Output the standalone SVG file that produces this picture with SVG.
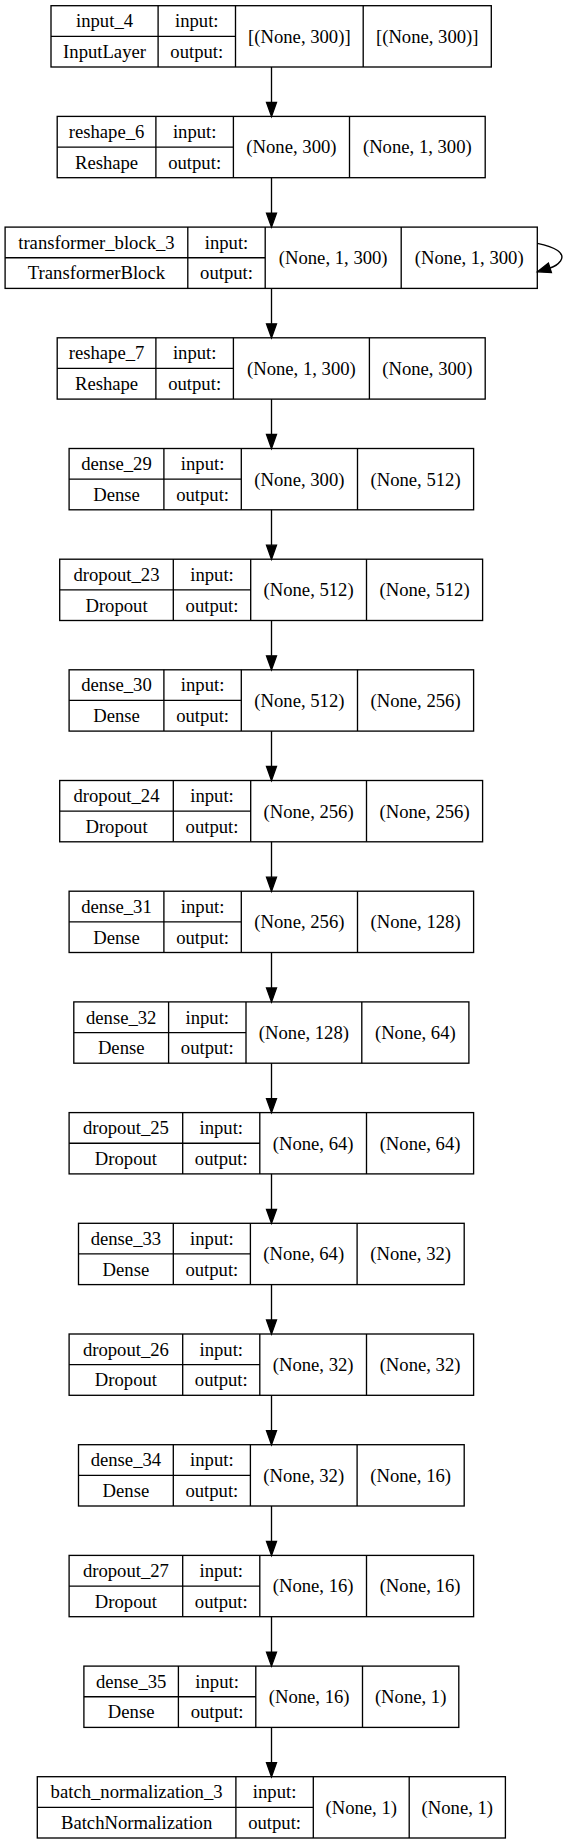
<svg xmlns="http://www.w3.org/2000/svg" width="567" height="1844" viewBox="0 0 567 1844">
<style>
.b{fill:none;stroke:#000;stroke-width:1.33}
.e{fill:none;stroke:#000;stroke-width:1.33}
.h{fill:#000;stroke:#000;stroke-width:1.33}
text{font-family:"Liberation Serif","Times New Roman",serif;font-size:18.67px;text-anchor:middle;fill:#000}
</style>
<rect width="567" height="1844" fill="#fff"/>
<g id="connectors">
<line class="e" x1="271.5" y1="67" x2="271.5" y2="102.4"/><polygon class="h" points="271.5,116.4 266.5,102.4 276.5,102.4"/>
<line class="e" x1="271.5" y1="177.7" x2="271.5" y2="213.1"/><polygon class="h" points="271.5,227.1 266.5,213.1 276.5,213.1"/>
<line class="e" x1="271.5" y1="288.4" x2="271.5" y2="323.8"/><polygon class="h" points="271.5,337.8 266.5,323.8 276.5,323.8"/>
<line class="e" x1="271.5" y1="399.1" x2="271.5" y2="434.5"/><polygon class="h" points="271.5,448.5 266.5,434.5 276.5,434.5"/>
<line class="e" x1="271.5" y1="509.8" x2="271.5" y2="545.2"/><polygon class="h" points="271.5,559.2 266.5,545.2 276.5,545.2"/>
<line class="e" x1="271.5" y1="620.5" x2="271.5" y2="655.8"/><polygon class="h" points="271.5,669.8 266.5,655.8 276.5,655.8"/>
<line class="e" x1="271.5" y1="731.1" x2="271.5" y2="766.5"/><polygon class="h" points="271.5,780.5 266.5,766.5 276.5,766.5"/>
<line class="e" x1="271.5" y1="841.8" x2="271.5" y2="877.2"/><polygon class="h" points="271.5,891.2 266.5,877.2 276.5,877.2"/>
<line class="e" x1="271.5" y1="952.5" x2="271.5" y2="987.9"/><polygon class="h" points="271.5,1001.9 266.5,987.9 276.5,987.9"/>
<line class="e" x1="271.5" y1="1063.2" x2="271.5" y2="1098.6"/><polygon class="h" points="271.5,1112.6 266.5,1098.6 276.5,1098.6"/>
<line class="e" x1="271.5" y1="1173.9" x2="271.5" y2="1209.3"/><polygon class="h" points="271.5,1223.3 266.5,1209.3 276.5,1209.3"/>
<line class="e" x1="271.5" y1="1284.6" x2="271.5" y2="1320"/><polygon class="h" points="271.5,1334 266.5,1320 276.5,1320"/>
<line class="e" x1="271.5" y1="1395.3" x2="271.5" y2="1430.7"/><polygon class="h" points="271.5,1444.7 266.5,1430.7 276.5,1430.7"/>
<line class="e" x1="271.5" y1="1506" x2="271.5" y2="1541.4"/><polygon class="h" points="271.5,1555.4 266.5,1541.4 276.5,1541.4"/>
<line class="e" x1="271.5" y1="1616.7" x2="271.5" y2="1652.1"/><polygon class="h" points="271.5,1666.1 266.5,1652.1 276.5,1652.1"/>
<line class="e" x1="271.5" y1="1727.4" x2="271.5" y2="1762.7"/><polygon class="h" points="271.5,1776.7 266.5,1762.7 276.5,1762.7"/>
<path class="e" d="M537.3,243.3 C555,247 566,253 560.5,261 C557.5,265 554,266.8 550,268"/>
<polygon class="h" points="537.5,271.8 551.4,272.6 548.4,263.1"/>
</g>
<g id="n0">
<rect class="b" x="51" y="5.7" width="440.3" height="61.3"/>
<path class="b" d="M158.1,5.7V67M235.5,5.7V67M363.2,5.7V67M51,36.35H235.5"/>
<text x="104.55" y="27.3">input_4</text><text x="104.55" y="58">InputLayer</text>
<text x="196.8" y="27.3">input:</text><text x="196.8" y="58">output:</text>
<text x="299.35" y="42.7">[(None, 300)]</text><text x="427.25" y="42.7">[(None, 300)]</text>
</g>
<g id="n1">
<rect class="b" x="57.2" y="116.4" width="428" height="61.3"/>
<path class="b" d="M155.9,116.4V177.7M233.4,116.4V177.7M349.5,116.4V177.7M57.2,147.05H233.4"/>
<text x="106.55" y="138">reshape_6</text><text x="106.55" y="168.7">Reshape</text>
<text x="194.65" y="138">input:</text><text x="194.65" y="168.7">output:</text>
<text x="291.45" y="153.4">(None, 300)</text><text x="417.35" y="153.4">(None, 1, 300)</text>
</g>
<g id="n2">
<rect class="b" x="5.1" y="227.1" width="532.2" height="61.3"/>
<path class="b" d="M187.8,227.1V288.4M265.2,227.1V288.4M401.2,227.1V288.4M5.1,257.75H265.2"/>
<text x="96.45" y="248.7">transformer_block_3</text><text x="96.45" y="279.4">TransformerBlock</text>
<text x="226.5" y="248.7">input:</text><text x="226.5" y="279.4">output:</text>
<text x="333.2" y="264.1">(None, 1, 300)</text><text x="469.25" y="264.1">(None, 1, 300)</text>
</g>
<g id="n3">
<rect class="b" x="57.2" y="337.8" width="428" height="61.3"/>
<path class="b" d="M155.9,337.8V399.1M233.4,337.8V399.1M369.4,337.8V399.1M57.2,368.45H233.4"/>
<text x="106.55" y="359.4">reshape_7</text><text x="106.55" y="390.1">Reshape</text>
<text x="194.65" y="359.4">input:</text><text x="194.65" y="390.1">output:</text>
<text x="301.4" y="374.8">(None, 1, 300)</text><text x="427.3" y="374.8">(None, 300)</text>
</g>
<g id="n4">
<rect class="b" x="69.1" y="448.5" width="404.5" height="61.3"/>
<path class="b" d="M163.9,448.5V509.8M241.3,448.5V509.8M357.5,448.5V509.8M69.1,479.15H241.3"/>
<text x="116.5" y="470.1">dense_29</text><text x="116.5" y="500.8">Dense</text>
<text x="202.6" y="470.1">input:</text><text x="202.6" y="500.8">output:</text>
<text x="299.4" y="485.5">(None, 300)</text><text x="415.55" y="485.5">(None, 512)</text>
</g>
<g id="n5">
<rect class="b" x="59.7" y="559.2" width="422.9" height="61.3"/>
<path class="b" d="M173.3,559.2V620.5M250.7,559.2V620.5M366.5,559.2V620.5M59.7,589.85H250.7"/>
<text x="116.5" y="580.8">dropout_23</text><text x="116.5" y="611.5">Dropout</text>
<text x="212" y="580.8">input:</text><text x="212" y="611.5">output:</text>
<text x="308.6" y="596.2">(None, 512)</text><text x="424.55" y="596.2">(None, 512)</text>
</g>
<g id="n6">
<rect class="b" x="69.1" y="669.8" width="404.5" height="61.3"/>
<path class="b" d="M163.9,669.8V731.1M241.3,669.8V731.1M357.5,669.8V731.1M69.1,700.45H241.3"/>
<text x="116.5" y="691.4">dense_30</text><text x="116.5" y="722.1">Dense</text>
<text x="202.6" y="691.4">input:</text><text x="202.6" y="722.1">output:</text>
<text x="299.4" y="706.8">(None, 512)</text><text x="415.55" y="706.8">(None, 256)</text>
</g>
<g id="n7">
<rect class="b" x="59.7" y="780.5" width="422.9" height="61.3"/>
<path class="b" d="M173.3,780.5V841.8M250.7,780.5V841.8M366.5,780.5V841.8M59.7,811.15H250.7"/>
<text x="116.5" y="802.1">dropout_24</text><text x="116.5" y="832.8">Dropout</text>
<text x="212" y="802.1">input:</text><text x="212" y="832.8">output:</text>
<text x="308.6" y="817.5">(None, 256)</text><text x="424.55" y="817.5">(None, 256)</text>
</g>
<g id="n8">
<rect class="b" x="69.1" y="891.2" width="404.5" height="61.3"/>
<path class="b" d="M163.9,891.2V952.5M241.3,891.2V952.5M357.5,891.2V952.5M69.1,921.85H241.3"/>
<text x="116.5" y="912.8">dense_31</text><text x="116.5" y="943.5">Dense</text>
<text x="202.6" y="912.8">input:</text><text x="202.6" y="943.5">output:</text>
<text x="299.4" y="928.2">(None, 256)</text><text x="415.55" y="928.2">(None, 128)</text>
</g>
<g id="n9">
<rect class="b" x="73.8" y="1001.9" width="395.1" height="61.3"/>
<path class="b" d="M168.6,1001.9V1063.2M246,1001.9V1063.2M361.8,1001.9V1063.2M73.8,1032.55H246"/>
<text x="121.2" y="1023.5">dense_32</text><text x="121.2" y="1054.2">Dense</text>
<text x="207.3" y="1023.5">input:</text><text x="207.3" y="1054.2">output:</text>
<text x="303.9" y="1038.9">(None, 128)</text><text x="415.35" y="1038.9">(None, 64)</text>
</g>
<g id="n10">
<rect class="b" x="69.1" y="1112.6" width="404.5" height="61.3"/>
<path class="b" d="M182.7,1112.6V1173.9M259.8,1112.6V1173.9M366.5,1112.6V1173.9M69.1,1143.25H259.8"/>
<text x="125.9" y="1134.2">dropout_25</text><text x="125.9" y="1164.9">Dropout</text>
<text x="221.25" y="1134.2">input:</text><text x="221.25" y="1164.9">output:</text>
<text x="313.15" y="1149.6">(None, 64)</text><text x="420.05" y="1149.6">(None, 64)</text>
</g>
<g id="n11">
<rect class="b" x="78.5" y="1223.3" width="385.7" height="61.3"/>
<path class="b" d="M173.3,1223.3V1284.6M250.4,1223.3V1284.6M357.1,1223.3V1284.6M78.5,1253.95H250.4"/>
<text x="125.9" y="1244.9">dense_33</text><text x="125.9" y="1275.6">Dense</text>
<text x="211.85" y="1244.9">input:</text><text x="211.85" y="1275.6">output:</text>
<text x="303.75" y="1260.3">(None, 64)</text><text x="410.65" y="1260.3">(None, 32)</text>
</g>
<g id="n12">
<rect class="b" x="69.1" y="1334" width="404.5" height="61.3"/>
<path class="b" d="M182.7,1334V1395.3M259.8,1334V1395.3M366.5,1334V1395.3M69.1,1364.65H259.8"/>
<text x="125.9" y="1355.6">dropout_26</text><text x="125.9" y="1386.3">Dropout</text>
<text x="221.25" y="1355.6">input:</text><text x="221.25" y="1386.3">output:</text>
<text x="313.15" y="1371">(None, 32)</text><text x="420.05" y="1371">(None, 32)</text>
</g>
<g id="n13">
<rect class="b" x="78.5" y="1444.7" width="385.7" height="61.3"/>
<path class="b" d="M173.3,1444.7V1506M250.4,1444.7V1506M357.1,1444.7V1506M78.5,1475.35H250.4"/>
<text x="125.9" y="1466.3">dense_34</text><text x="125.9" y="1497">Dense</text>
<text x="211.85" y="1466.3">input:</text><text x="211.85" y="1497">output:</text>
<text x="303.75" y="1481.7">(None, 32)</text><text x="410.65" y="1481.7">(None, 16)</text>
</g>
<g id="n14">
<rect class="b" x="69.1" y="1555.4" width="404.5" height="61.3"/>
<path class="b" d="M182.7,1555.4V1616.7M259.8,1555.4V1616.7M366.5,1555.4V1616.7M69.1,1586.05H259.8"/>
<text x="125.9" y="1577">dropout_27</text><text x="125.9" y="1607.7">Dropout</text>
<text x="221.25" y="1577">input:</text><text x="221.25" y="1607.7">output:</text>
<text x="313.15" y="1592.4">(None, 16)</text><text x="420.05" y="1592.4">(None, 16)</text>
</g>
<g id="n15">
<rect class="b" x="83.9" y="1666.1" width="374.9" height="61.3"/>
<path class="b" d="M178.4,1666.1V1727.4M255.8,1666.1V1727.4M362.5,1666.1V1727.4M83.9,1696.75H255.8"/>
<text x="131.15" y="1687.7">dense_35</text><text x="131.15" y="1718.4">Dense</text>
<text x="217.1" y="1687.7">input:</text><text x="217.1" y="1718.4">output:</text>
<text x="309.15" y="1703.1">(None, 16)</text><text x="410.65" y="1703.1">(None, 1)</text>
</g>
<g id="n16">
<rect class="b" x="37.3" y="1776.7" width="468.1" height="61.3"/>
<path class="b" d="M235.9,1776.7V1838M313.3,1776.7V1838M409.2,1776.7V1838M37.3,1807.35H313.3"/>
<text x="136.6" y="1798.3">batch_normalization_3</text><text x="136.6" y="1829">BatchNormalization</text>
<text x="274.6" y="1798.3">input:</text><text x="274.6" y="1829">output:</text>
<text x="361.25" y="1813.7">(None, 1)</text><text x="457.3" y="1813.7">(None, 1)</text>
</g>
</svg>
